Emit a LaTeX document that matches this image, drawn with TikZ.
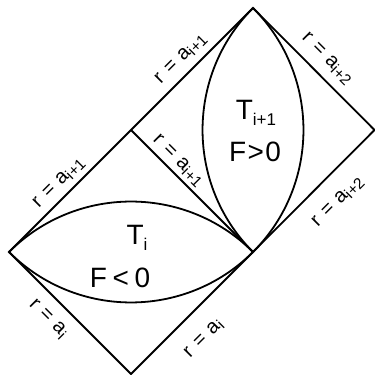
\documentclass[tikz,border=0pt]{standalone}
\usepackage{fontspec}
\setmainfont{Liberation Sans}
\newcommand\lsub[1]{\raisebox{-0.3ex}{\fontsize{15.5}{18}\selectfont #1}}
\newcommand\bsub[1]{\raisebox{-0.45ex}{\fontsize{17}{20}\selectfont #1}}
\newcommand\req[1]{r\hspace{0.35em}=\hspace{0.35em}a\lsub{#1}}
\begin{document}
\begin{tikzpicture}[x=1pt,y=1pt,
  edge/.style={line width=1.8pt,line join=miter},
  lens/.style={line width=1.8pt},
  lbl/.style={font=\fontsize{20}{24}\selectfont,inner sep=0pt},
  big/.style={font=\fontsize{28}{32}\selectfont,inner sep=0pt}]
\useasboundingbox (0,0) rectangle (375,375);
\coordinate (L) at (9,123);
\coordinate (B) at (131,1);
\coordinate (M) at (131,245);
\coordinate (C) at (253,123);
\coordinate (T) at (253,367);
\coordinate (R) at (374.5,245);
\draw[edge] (L) -- (M) -- (T) -- (R) -- (C) -- (B) -- cycle;
\draw[edge] (M) -- (C);
\draw[lens] (L) to[out=45,in=135] (C);
\draw[lens] (L) to[out=-45,in=-135] (C);
\draw[lens] (C) to[out=135,in=-135] (T);
\draw[lens] (C) to[out=45,in=-45] (T);
\node[lbl,rotate=45] (l1) at (181,316) {\req{i+1}};
\node[lbl,rotate=45] (l2) at (59,192) {\req{i+1}};
\node[lbl,rotate=-45] (l3) at (178,214) {\req{i+1}};
\node[lbl,rotate=-45] (l4) at (327,316) {\req{i+2}};
\node[lbl,rotate=45] (l5) at (338,173) {\req{i+2}};
\node[lbl,rotate=-45] (l6) at (48,56) {\req{i}};
\node[lbl,rotate=45] (l7) at (204,36) {\req{i}};
\node[big] (ti) at (137,137) {T\bsub{i}};
\node[big] (fi) at (120,97) {F\hspace{0.2em}<\hspace{0.2em}0};
\node[big] (tj) at (256,262) {T\bsub{i+1}};
\node[big] (fj) at (255,223) {F\hspace{0.05em}>\hspace{0.05em}0};
\end{tikzpicture}
\end{document}
